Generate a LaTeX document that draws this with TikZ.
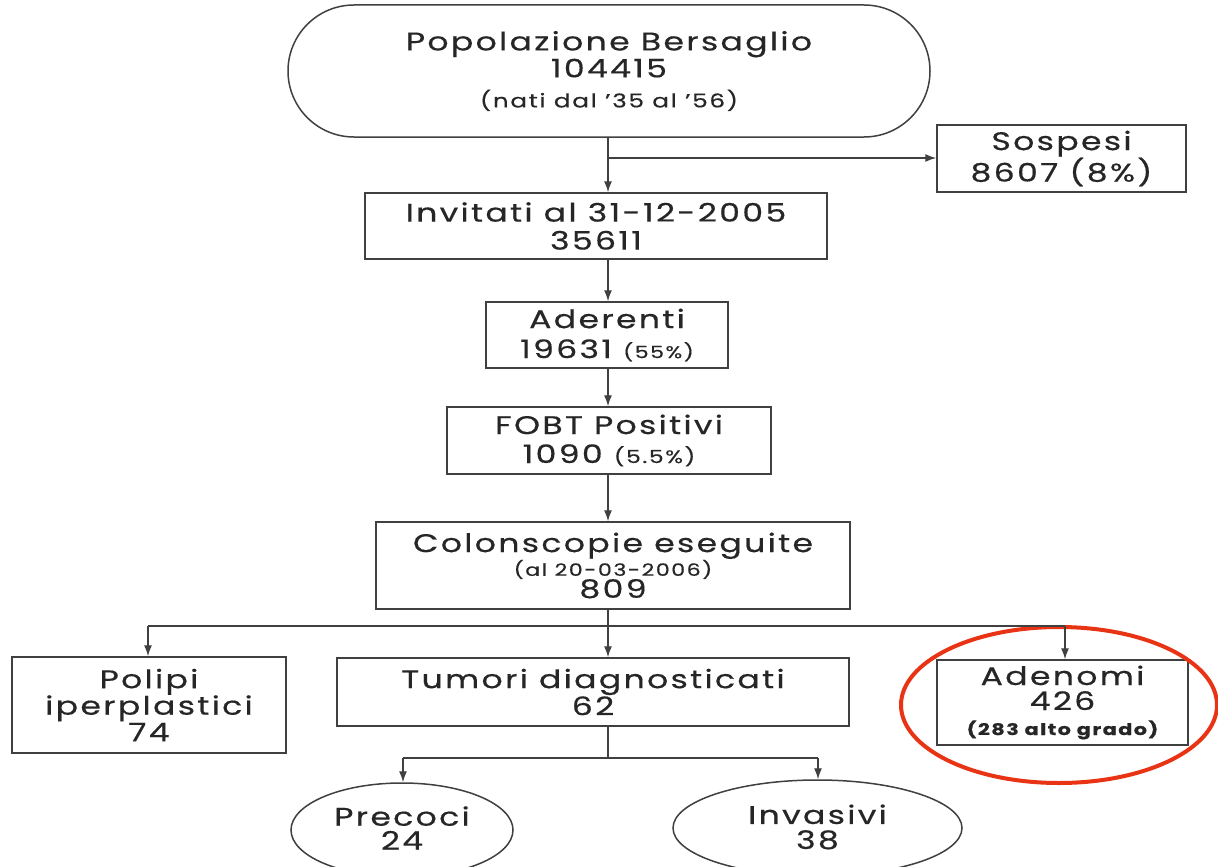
\documentclass[tikz,border=0pt]{standalone}
\usepackage{fontspec}
\setmainfont[FakeStretch=1.3,LetterSpace=9,FakeBold=0.45]{Poppins}
\usetikzlibrary{arrows.meta,shapes.geometric}
\begin{document}
\begin{tikzpicture}[x=1pt,y=-1pt,
  line width=1.5pt,
  every node/.style={text=black!85},
  big/.style={font=\fontsize{25.5}{28}\selectfont},
  box/.style={draw=black!75, line width=1.5pt, inner sep=0pt, align=center, big},
  oval/.style={draw=black!75, line width=1.5pt, ellipse, inner sep=0pt, align=center, big},
  conn/.style={draw=black!75, line width=1.3pt},
  arr/.style={conn, -{Latex[length=11pt,width=8pt]}}]
\useasboundingbox (0,0) rectangle (1218,867);
\clip (0,0) rectangle (1218,867);
\fill[white] (0,0) rectangle (1218,867);

\node[box, rounded corners=66pt, minimum width=642pt, minimum height=132pt, font=\fontsize{25.5}{27}\selectfont] (pop) at (609,71)
  {Popolazione Bersaglio\\104415\\[3pt]{\fontsize{19}{22}\selectfont (nati dal '35 al '56)}};
\node[box, minimum width=249pt, minimum height=67pt, font=\fontsize{25.5}{27}\selectfont] (sos) at (1061.5,158.5) {Sospesi\\8607 (8\%)};
\node[box, minimum width=462pt, minimum height=66pt] (inv) at (596,226) {Invitati al 31-12-2005\\35611};
\node[box, minimum width=242pt, minimum height=66pt, font=\fontsize{25.5}{30}\selectfont] (ade) at (607,335) {Aderenti\\19631 {\fontsize{17}{18}\selectfont (55\%)}};
\node[box, minimum width=324pt, minimum height=67pt, font=\fontsize{25.5}{29}\selectfont] (fobt) at (609,440.5) {FOBT Positivi\\1090 {\fontsize{18}{18}\selectfont (5.5\%)}};
\node[box, minimum width=474pt, minimum height=87pt, font=\fontsize{25.5}{22}\selectfont] (col) at (613,565.5)
  {Colonscopie eseguite\\{\fontsize{17}{18}\selectfont (al 20-03-2006)}\\809};
\node[box, minimum width=274pt, minimum height=96pt, font=\fontsize{25.5}{26.5}\selectfont] (pol) at (149,705) {Polipi\\iperplastici\\74};
\node[box, minimum width=512pt, minimum height=68pt, font=\fontsize{25.5}{27}\selectfont] (tum) at (593,692) {Tumori diagnosticati\\62};
\node[box, minimum width=251pt, minimum height=85pt, font=\fontsize{25.5}{25}\selectfont] (adn) at (1062.5,702.5)
  {Adenomi\\426\\{\fontsize{16}{18}\selectfont\bfseries (283 alto grado)}};
\node[oval, minimum width=222pt, minimum height=94pt] (pre) at (402,830) {};
\node[align=center, font=\fontsize{25.5}{24}\selectfont] (pret) at (402,828) {Precoci\\24};
\node[oval, minimum width=289pt, minimum height=96pt] (ivs) at (817.5,828) {};
\node[align=center, font=\fontsize{25.5}{25}\selectfont] (ivst) at (817.5,827) {Invasivi\\38};

\node[ellipse, draw={rgb,255:red,232;green,52;blue,20}, line width=4pt, minimum width=316pt, minimum height=156pt, inner sep=0pt] (red) at (1059,705) {};

\coordinate (j1) at (608,158);
\coordinate (j2) at (608,626);
\coordinate (j3) at (608,758);
\coordinate (jl) at (148,626);
\coordinate (jr) at (1065,626);
\coordinate (kl) at (403,758);
\coordinate (kr) at (818,758);

\draw[arr] (pop.south -| j1) -- (inv.north -| j1);
\draw[arr] (j1) -- (sos.west |- j1);
\draw[arr] (inv.south -| j1) -- (ade.north -| j1);
\draw[arr] (ade.south -| j1) -- (fobt.north -| j1);
\draw[arr] (fobt.south -| j1) -- (col.north -| j1);
\draw[conn] (col.south -| j2) -- (j2);
\draw[conn] (jl) -- (jr);
\draw[arr] (jl) -- (pol.north -| jl);
\draw[arr] (j2) -- (tum.north -| j2);
\draw[arr] (jr) -- (adn.north -| jr);
\draw[conn] (tum.south -| j3) -- (j3);
\draw[conn] (kl) -- (kr);
\draw[arr] (kl) -- (pre.north -| kl);
\draw[arr] (kr) -- (ivs.north -| kr);
\end{tikzpicture}
\end{document}
